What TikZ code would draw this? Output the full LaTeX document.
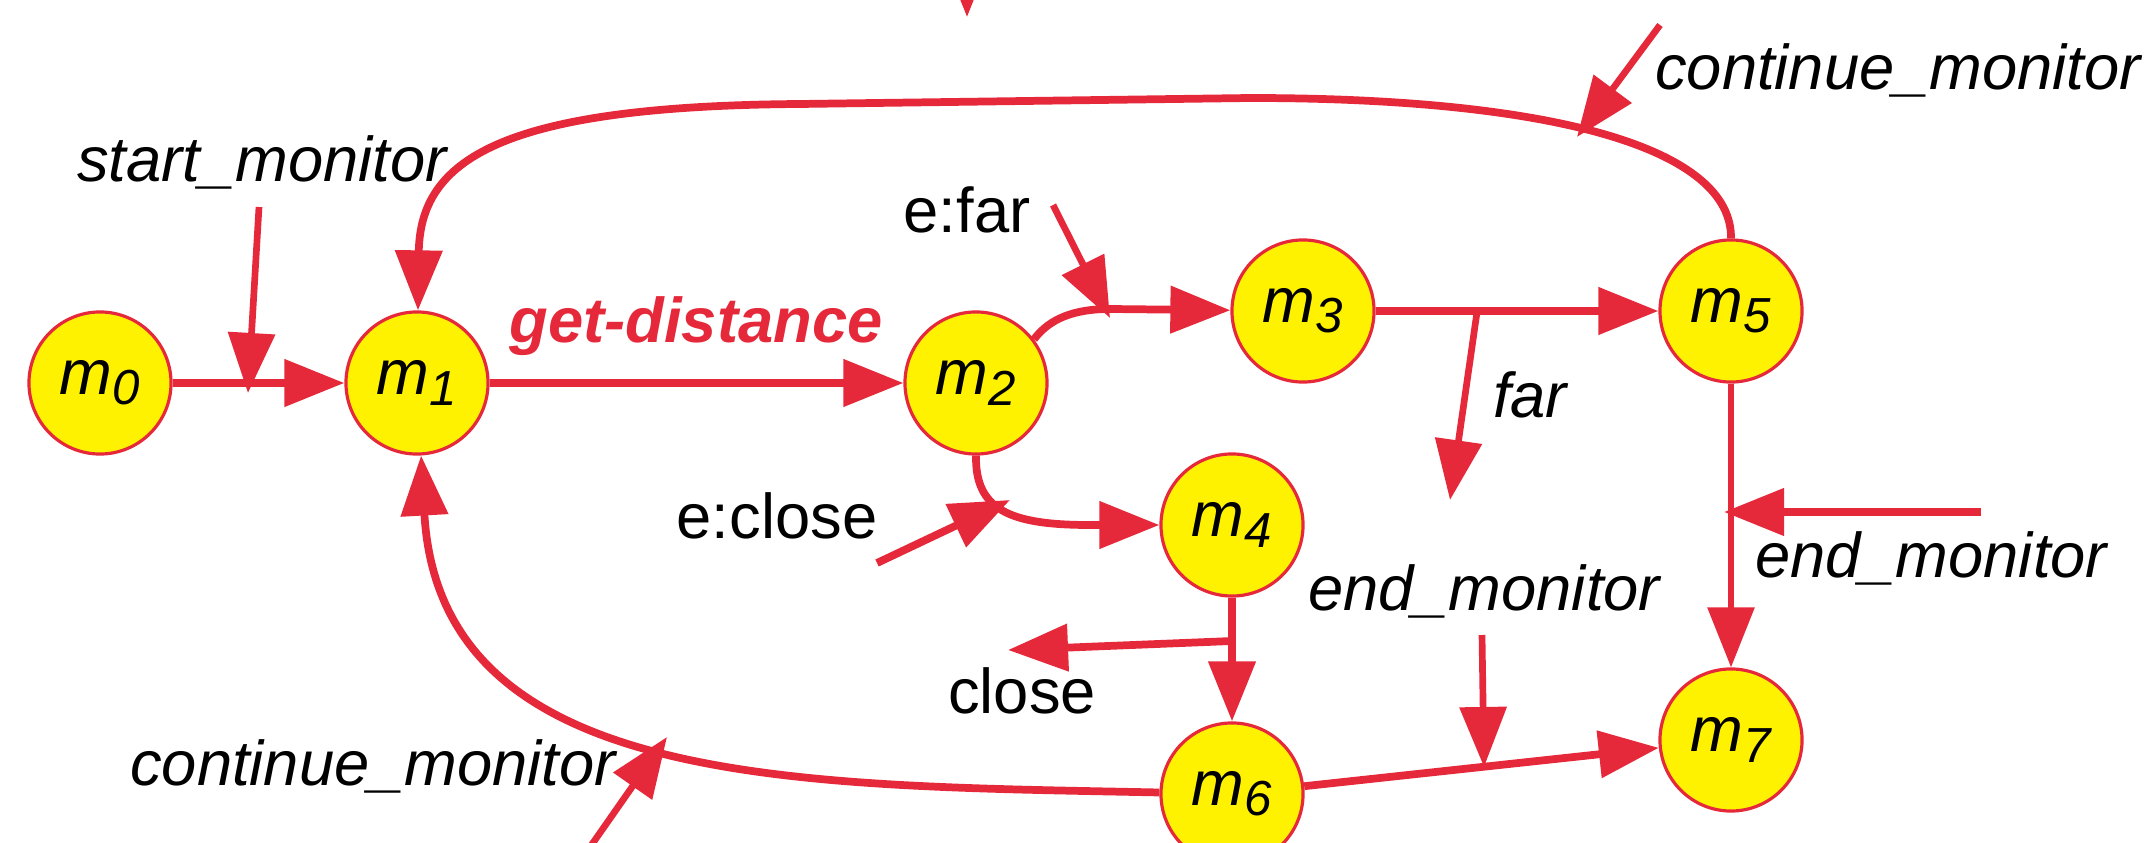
\documentclass[tikz,border=0pt]{standalone}
\usepackage{fontspec}
\setmainfont{Liberation Sans}
\usetikzlibrary{arrows.meta}
\definecolor{edgered}{RGB}{230,41,58}
\definecolor{stateyellow}{RGB}{255,242,0}
% state label: italic m with a lowered italic index
\newcommand\mlab[1]{m\raisebox{-0.16em}{\fontsize{14}{14}\selectfont #1}}

\begin{document}
\begin{tikzpicture}[x=0.01cm,y=-0.01cm,
  mstate/.style={circle,draw=edgered,line width=0.9pt,fill=stateyellow,
    minimum size=1.42cm,inner sep=0pt,font=\fontsize{18}{21.6}\selectfont\itshape},
  trans/.style={draw=edgered,line width=2.2pt,-{Triangle[length=0.6cm,width=0.46cm]}},
  thintrans/.style={trans,line width=1.7pt},
  inarrow/.style={trans,line width=1.9pt},
  lbl/.style={anchor=base,inner sep=0pt,font=\fontsize{18}{21.6}\selectfont\itshape},
  lblup/.style={anchor=base,inner sep=0pt,font=\fontsize{18}{21.6}\selectfont},
]
\useasboundingbox (0,0) rectangle (2146,843);
\clip (0,0) rectangle (2146,843);

% states
\node[mstate] (m0) at (100,383) {\mlab{0}};
\node[mstate] (m1) at (417,383) {\mlab{1}};
\node[mstate] (m2) at (976,383) {\mlab{2}};
\node[mstate] (m3) at (1303,311) {\mlab{3}};
\node[mstate] (m5) at (1731,311) {\mlab{5}};
\node[mstate] (m4) at (1232,525) {\mlab{4}};
\node[mstate] (m6) at (1232,794) {\mlab{6}};
\node[mstate] (m7) at (1731,740) {\mlab{7}};

% transitions between states
\draw[trans] (m0) -- (m1);
\draw[trans] (m1) -- (m2);
\draw[trans] (m2.37) .. controls (1050,318) and (1075,309) .. (1110,309) -- (m3);
\draw[trans] (m3) -- (m5);
\draw[trans] (m5.north) .. controls (1732,150) and (1560,98) .. (1250,98)
  -- (800,104) .. controls (500,106) and (420,160) .. (m1);
\draw[trans] (m2.south) .. controls (975,510) and (1010,525) .. (1090,525) -- (m4);
\draw[trans] (m4) -- (m6);
\draw[trans] (m6) .. controls (800,785) and (440,790) .. (m1);
\draw[trans] (m6) -- (m7);
\draw[thintrans] (m5) -- (m7);

% event and output arrows
\coordinate (smA) at (259,207);  \coordinate (smB) at (248,393);
\coordinate (efA) at (1053,205); \coordinate (efB) at (1110,318);
\coordinate (ecA) at (877,563);  \coordinate (ecB) at (1010,500);
\coordinate (farA) at (1477,312); \coordinate (farB) at (1450,500);
\coordinate (clA) at (1232,641); \coordinate (clB) at (1008,650);
\coordinate (cmtA) at (1660,25); \coordinate (cmtB) at (1577,137);
\coordinate (cmbA) at (574,870); \coordinate (cmbB) at (667,737);
\coordinate (emmA) at (1482,635); \coordinate (emmB) at (1484,767);
\coordinate (emrA) at (1981,512); \coordinate (emrB) at (1724,512);
\coordinate (topA) at (967,-120); \coordinate (topB) at (967,17);

\draw[inarrow] (smA) -- (smB);
\draw[inarrow] (efA) -- (efB);
\draw[trans] (ecA) -- (ecB);
\draw[inarrow] (farA) -- (farB);
\draw[trans] (clA) -- (clB);
\draw[inarrow] (cmtA) -- (cmtB);
\draw[inarrow] (cmbA) -- (cmbB);
\draw[inarrow] (emmA) -- (emmB);
\draw[trans] (emrA) -- (emrB);
\draw[inarrow] (topA) -- (topB);

% labels
\node[lbl] (tsm) at (262,182) {start\_monitor};
\node[lbl,font=\fontsize{18}{21.6}\selectfont\bfseries\itshape,text=edgered] (tgd) at (696,343) {get-distance};
\node[lblup] (tef) at (967,233) {e:far};
\node[lbl] (tcmt) at (1898,90) {continue\_monitor};
\node[lbl] (tfar) at (1530,418) {far};
\node[lblup] (tec) at (777,538) {e:close};
\node[lblup] (tcl) at (1022,713) {close};
\node[lbl] (tcmb) at (373,785) {continue\_monitor};
\node[lbl] (temm) at (1484,610) {end\_monitor};
\node[lbl] (temr) at (1931,577) {end\_monitor};
\end{tikzpicture}
\end{document}
